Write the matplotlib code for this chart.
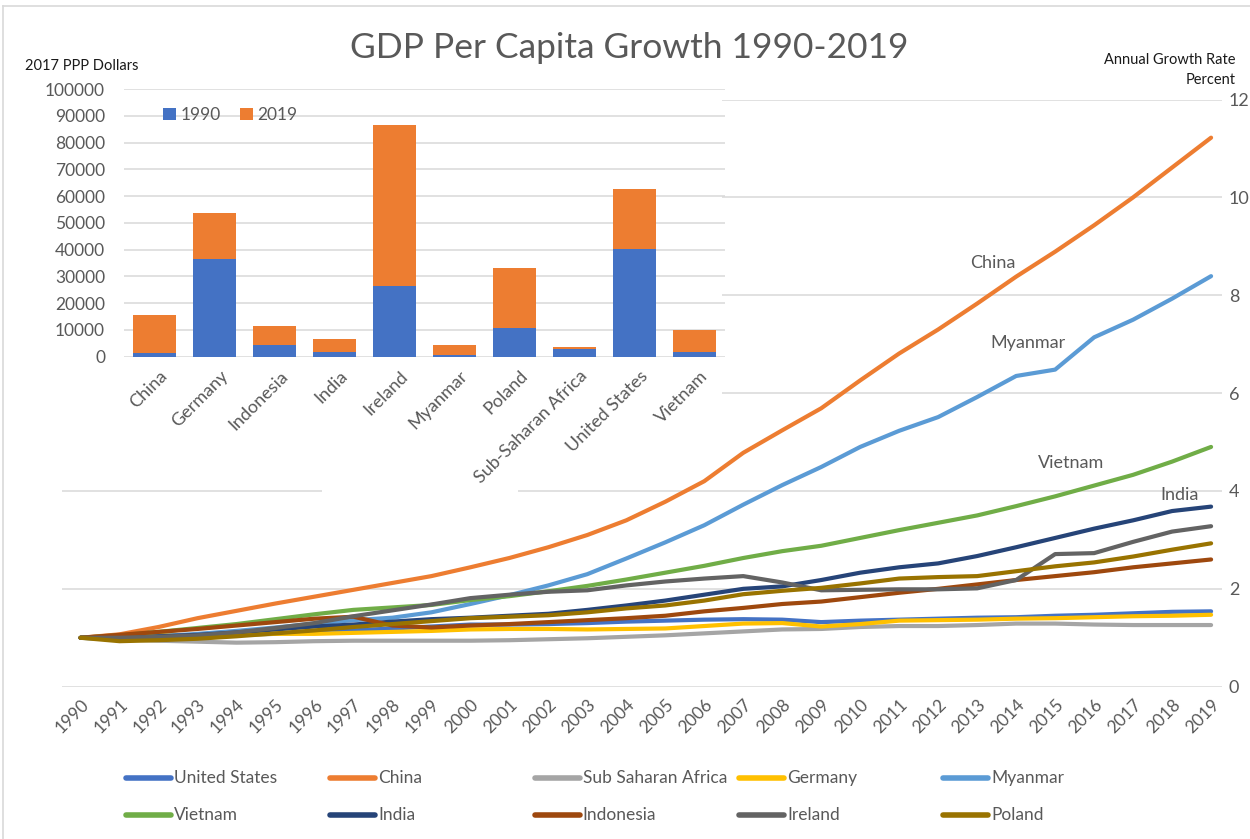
import matplotlib
matplotlib.use("Agg")
import matplotlib.pyplot as plt
from matplotlib.patches import Rectangle
from matplotlib.lines import Line2D
from matplotlib.transforms import ScaledTranslation
import numpy as np

plt.rcParams['font.family'] = ['Lato', 'DejaVu Sans']

# ---- growth index data (1990 = 1) ----
years = list(range(1990, 2020))

united_states = [1.00, 0.99, 1.01, 1.03, 1.06, 1.08, 1.11, 1.15, 1.19, 1.23,
                 1.27, 1.27, 1.28, 1.30, 1.33, 1.35, 1.37, 1.38, 1.37, 1.32,
                 1.35, 1.37, 1.39, 1.41, 1.42, 1.45, 1.47, 1.50, 1.53, 1.54]
china = [1.00, 1.07, 1.22, 1.40, 1.55, 1.70, 1.84, 1.98, 2.12, 2.26,
         2.44, 2.63, 2.85, 3.10, 3.40, 3.78, 4.20, 4.78, 5.24, 5.69,
         6.26, 6.81, 7.30, 7.83, 8.38, 8.89, 9.43, 10.00, 10.61, 11.22]
sub_saharan = [1.00, 0.97, 0.94, 0.92, 0.90, 0.91, 0.93, 0.94, 0.94, 0.94,
               0.94, 0.95, 0.97, 0.99, 1.02, 1.05, 1.09, 1.13, 1.17, 1.18,
               1.22, 1.24, 1.24, 1.26, 1.29, 1.29, 1.27, 1.26, 1.26, 1.26]
germany = [1.00, 1.04, 1.05, 1.04, 1.06, 1.08, 1.08, 1.10, 1.12, 1.14,
           1.17, 1.18, 1.18, 1.17, 1.18, 1.19, 1.24, 1.29, 1.30, 1.23,
           1.28, 1.35, 1.36, 1.37, 1.39, 1.40, 1.42, 1.44, 1.45, 1.47]
myanmar = [1.00, 0.96, 1.03, 1.08, 1.14, 1.21, 1.29, 1.36, 1.41, 1.52,
           1.69, 1.87, 2.07, 2.30, 2.62, 2.95, 3.30, 3.72, 4.12, 4.49,
           4.90, 5.23, 5.51, 5.92, 6.35, 6.48, 7.14, 7.50, 7.93, 8.39]
vietnam = [1.00, 1.05, 1.12, 1.20, 1.28, 1.38, 1.48, 1.57, 1.62, 1.67,
           1.77, 1.85, 1.95, 2.06, 2.19, 2.33, 2.47, 2.63, 2.77, 2.88,
           3.04, 3.20, 3.35, 3.50, 3.69, 3.89, 4.11, 4.33, 4.60, 4.90]
india = [1.00, 0.99, 1.03, 1.06, 1.11, 1.17, 1.23, 1.27, 1.33, 1.38,
         1.41, 1.45, 1.49, 1.57, 1.66, 1.76, 1.88, 2.00, 2.05, 2.18,
         2.33, 2.44, 2.52, 2.67, 2.85, 3.04, 3.23, 3.40, 3.59, 3.68]
indonesia = [1.00, 1.06, 1.12, 1.18, 1.25, 1.32, 1.39, 1.43, 1.25, 1.21,
             1.25, 1.28, 1.32, 1.36, 1.40, 1.45, 1.54, 1.61, 1.69, 1.74,
             1.83, 1.92, 2.00, 2.09, 2.18, 2.26, 2.34, 2.44, 2.52, 2.60]
ireland = [1.00, 1.00, 1.02, 1.05, 1.11, 1.20, 1.30, 1.44, 1.56, 1.68,
           1.81, 1.88, 1.94, 1.97, 2.07, 2.15, 2.21, 2.26, 2.13, 1.97,
           1.98, 1.99, 1.99, 2.01, 2.18, 2.71, 2.73, 2.96, 3.17, 3.28]
poland = [1.00, 0.93, 0.95, 0.98, 1.03, 1.09, 1.15, 1.22, 1.28, 1.34,
          1.40, 1.43, 1.46, 1.52, 1.60, 1.66, 1.76, 1.89, 1.96, 2.02,
          2.11, 2.21, 2.24, 2.26, 2.36, 2.46, 2.54, 2.66, 2.80, 2.93]

series_names = ['United States', 'China', 'Sub Saharan Africa', 'Germany', 'Myanmar',
                'Vietnam', 'India', 'Indonesia', 'Ireland', 'Poland']
series_values = [united_states, china, sub_saharan, germany, myanmar,
                 vietnam, india, indonesia, ireland, poland]
series_colors = ['#4472C4', '#ED7D31', '#A5A5A5', '#FFC000', '#5B9BD5',
                 '#70AD47', '#264478', '#9E480E', '#636363', '#997300']

# ---- GDP per capita levels, 2017 PPP dollars ----
countries = ['China', 'Germany', 'Indonesia', 'India', 'Ireland', 'Myanmar',
             'Poland', 'Sub-Saharan Africa', 'United States', 'Vietnam']
gdp_1990 = [1300, 36500, 4300, 1600, 26400, 520, 10900, 2900, 40200, 1900]
gdp_2019 = [15600, 53800, 11500, 6500, 86500, 4400, 33000, 3800, 62500, 10000]

W, H = 1250, 839
TXT = '#595959'
GRID = '#d9d9d9'


def fx(px):
    return px / W


def fy(py):
    return 1 - py / H


fig = plt.figure(figsize=(W / 100, H / 100), dpi=100)
fig.patch.set_facecolor('white')

# ---- main line chart ----
ax = fig.add_axes([fx(62), fy(686.7), fx(1222) - fx(62), fy(99.5) - fy(686.7)], zorder=0)
ax.set_facecolor('white')
for name, vals, col in zip(series_names, series_values, series_colors):
    ax.plot(years, vals, color=col, lw=3.0, solid_capstyle='round',
            solid_joinstyle='round', label=name)

ax.set_xlim(1989.525, 2019.28)
ax.set_ylim(0, 12)
ax.yaxis.tick_right()
ax.set_yticks(np.arange(0, 13, 2))
ax.grid(axis='y', color=GRID, lw=1.1)
ax.set_axisbelow(True)
for s in ax.spines.values():
    s.set_visible(False)
ax.tick_params(axis='y', length=0, pad=5, labelsize=13, labelcolor=TXT)
ax.set_xticks(years)
ax.set_xticklabels([str(y) for y in years], rotation=45, ha='right',
                   rotation_mode='anchor')
ax.tick_params(axis='x', length=0, pad=7, labelsize=12.5, labelcolor=TXT)

for label, lx, ly in [('China', 2013.4, 8.66), ('Myanmar', 2014.3, 7.02),
                      ('Vietnam', 2015.4, 4.57), ('India', 2018.2, 3.92)]:
    ax.text(lx, ly, label, ha='center', va='center', fontsize=13, color=TXT)

# white backing behind the inset bar chart
fig.add_artist(Rectangle((0, fy(460)), fx(722), fy(40) - fy(460),
                         transform=fig.transFigure, facecolor='white',
                         edgecolor='none', zorder=1))
fig.add_artist(Rectangle((fx(322), fy(494)), fx(518) - fx(322), fy(458) - fy(494),
                         transform=fig.transFigure, facecolor='white',
                         edgecolor='none', zorder=1))

# ---- inset bar chart ----
ax2 = fig.add_axes([fx(124.5), fy(356.7), fx(724.5) - fx(124.5), fy(89) - fy(356.7)],
                   zorder=2)
ax2.set_facecolor('none')
xpos = np.arange(len(countries))
b19 = ax2.bar(xpos, gdp_2019, width=0.72, color='#ED7D31', zorder=2)
b90 = ax2.bar(xpos, gdp_1990, width=0.72, color='#4472C4', zorder=3)
ax2.set_xlim(-0.5, len(countries) - 0.5)
ax2.set_ylim(0, 100000)
ax2.set_yticks(np.arange(0, 100001, 10000))
ax2.grid(axis='y', color=GRID, lw=1.1, zorder=0)
ax2.set_axisbelow(True)
for s in ax2.spines.values():
    s.set_visible(False)
ax2.tick_params(axis='y', length=0, pad=14, labelsize=12.5, labelcolor=TXT)
ax2.set_xticks(xpos)
ax2.set_xticklabels(countries, rotation=45, ha='right', rotation_mode='anchor')
ax2.tick_params(axis='x', length=0, pad=8, labelsize=13, labelcolor=TXT)
shift = ScaledTranslation(5 / 100, 0, fig.dpi_scale_trans)
for lab in ax2.get_xticklabels():
    lab.set_transform(lab.get_transform() + shift)

ax2.legend([b90, b19], ['1990', '2019'], loc='upper left',
           bbox_to_anchor=(fx(163), fy(107)), bbox_transform=fig.transFigure,
           ncol=2, frameon=False, fontsize=12.5, labelcolor=TXT,
           handlelength=0.75, handleheight=0.75, handletextpad=0.25,
           columnspacing=1.1, borderaxespad=0, borderpad=0)

# ---- titles and axis captions ----
fig.text(fx(629), fy(48), 'GDP Per Capita Growth 1990-2019', ha='center', va='center',
         fontsize=25.5, color=TXT, zorder=3)
fig.text(fx(25), fy(66), '2017 PPP Dollars', ha='left', va='center',
         fontsize=10.5, color='#1a1a1a', zorder=3)
fig.text(fx(1236), fy(60), 'Annual Growth Rate', ha='right', va='center',
         fontsize=10.5, color='#1a1a1a', zorder=3)
fig.text(fx(1236), fy(80), 'Percent', ha='right', va='center',
         fontsize=10.5, color='#1a1a1a', zorder=3)

# ---- series legend, five evenly spaced columns ----
for i, (name, col) in enumerate(zip(series_names, series_colors)):
    r, c = divmod(i, 5)
    x0 = 126 + 204.3 * c
    y0 = 778 + 37 * r
    fig.add_artist(Line2D([fx(x0), fx(x0 + 45)], [fy(y0), fy(y0)], color=col,
                          lw=4, solid_capstyle='round', transform=fig.transFigure))
    fig.text(fx(x0 + 48), fy(y0), name, ha='left', va='center', fontsize=12.5,
             color=TXT)

# chart frame
fig.add_artist(Line2D([fx(3), fx(3)], [fy(6), 0], color=GRID, lw=1.2,
                      transform=fig.transFigure))
fig.add_artist(Line2D([fx(3), 1], [fy(6), fy(6)], color=GRID, lw=1.2,
                      transform=fig.transFigure))

fig.savefig('out.png', dpi=100, facecolor='white')
